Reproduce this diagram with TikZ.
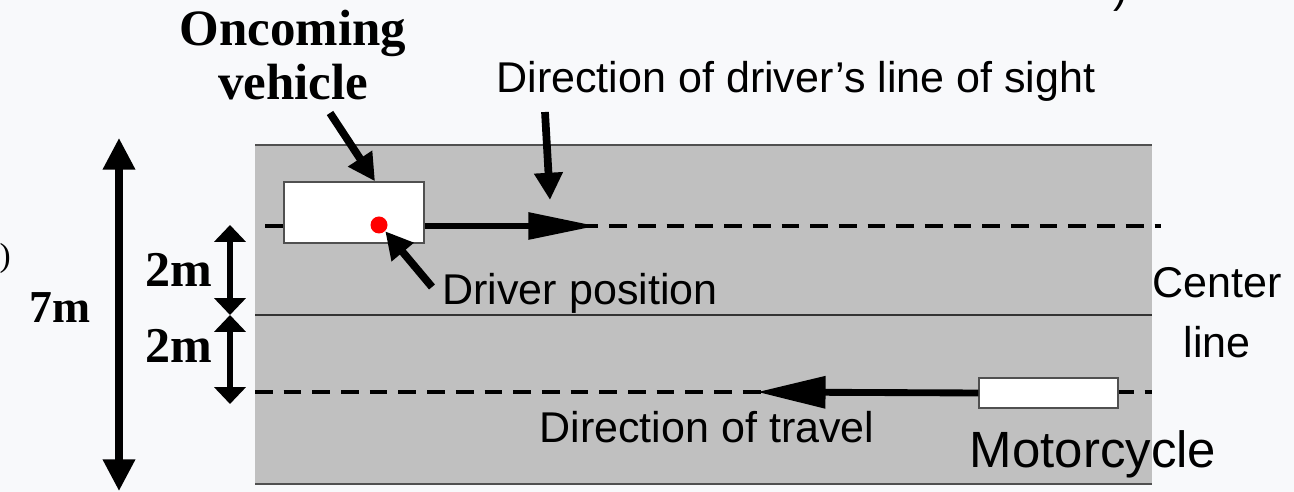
\documentclass[tikz,border=0pt]{standalone}
\usepackage{fontspec}
\setmainfont{Liberation Serif}
\setsansfont{Liberation Sans}
\usetikzlibrary{arrows.meta,positioning}

\definecolor{road}{RGB}{192,192,192}
\definecolor{paper}{RGB}{248,249,251}
\definecolor{edge}{RGB}{80,80,80}

\tikzset{
  lbl/.style={font=\sffamily\fontsize{24.5}{34.6}\selectfont,inner sep=0pt},
  dimlbl/.style={font=\bfseries\fontsize{28.5}{31.2}\selectfont,inner sep=0pt},
  box/.style={draw=edge,fill=white,line width=0.8pt,inner sep=0pt},
  lane/.style={line width=2.8pt,dash pattern=on 0.354cm off 0.22cm},
  pointer/.style={line width=4.4pt,-{Triangle[length=15.5pt,width=15.5pt]}},
  heading/.style={line width=3.9pt,-{Triangle[length=39pt,width=#1]}},
  bigdim/.style={line width=4pt,{Triangle[length=18pt,width=17.6pt]}-{Triangle[length=18pt,width=17.6pt]}},
  smalldim/.style={line width=3pt,{Triangle[length=9.6pt,width=17.6pt]}-{Triangle[length=9.6pt,width=17.6pt]}}
}

\begin{document}
\begin{tikzpicture}[x=0.02cm,y=-0.02cm]
  \fill[paper] (0,0) rectangle (1294,492);
  \useasboundingbox (0,0) rectangle (1294,492);

  %% road
  \fill[road] (255,145) rectangle (1152,484);
  \draw[edge,line width=0.8pt] (255,145) -- (1152,145);
  \draw[edge,line width=0.8pt] (255,484) -- (1152,484);
  \draw[black!80,line width=0.6pt] (255,315) -- (1152,315);
  \draw[lane] (265,226) -- (1161,226);
  \draw[lane] (255,392) -- (1152,392);

  %% vehicles
  \node[box,minimum width=2.8cm,minimum height=1.22cm] (car) at (354,212.5) {};
  \node[circle,fill=red,inner sep=0pt,minimum size=0.34cm] (dot) at (379,225) {};
  \node[box,minimum width=2.78cm,minimum height=0.6cm] (moto) at (1048.5,393) {};

  \coordinate (sight) at (597,226);
  \coordinate (travel) at (757,392);
  \draw[heading=14.6pt] (car.east |- sight) -- (sight);
  \draw[heading=17.6pt] (moto.west) -- (travel);

  %% labels
  \node[dimlbl,font=\bfseries\fontsize{29}{31.2}\selectfont,align=center,anchor=base] (onc) at (293,100) {Oncoming\\vehicle};
  \node[lbl,anchor=base] (sighttxt) at (796,93) {Direction of driver’s line of sight};
  \node[lbl,anchor=base] (drvtxt) at (580,305) {Driver position};
  \node[lbl,anchor=base] (traveltxt) at (707,443) {Direction of travel};
  \node[lbl,font=\sffamily\fontsize{29}{34}\selectfont,anchor=base] (mototxt) at (1093,468) {Motorcycle};
  \node[lbl,align=center,anchor=base] (centre) at (1217,358) {Center\\line};
  \node[inner sep=0pt,font=\fontsize{19}{20}\selectfont,anchor=base east] (lparen) at (11,267) {)};
  \node[inner sep=0pt,font=\sffamily\fontsize{24.5}{29}\selectfont,anchor=base west] (tparen) at (1113,3) {)};

  %% pointers
  \coordinate (onctail) at (330,113);
  \coordinate (sighttail) at (545,112);
  \coordinate (sighttip) at (550,200);
  \coordinate (drvtail) at (432,287);
  \draw[pointer] (onctail) -- ([xshift=0.42cm]car.north);
  \draw[pointer] (sighttail) -- (sighttip);
  \draw[pointer] (drvtail) -- (dot.south east);

  %% widths
  \coordinate (w7t) at (119,138);
  \coordinate (w7b) at (119,491);
  \coordinate (w2t) at (230,225);
  \coordinate (w2m) at (230,315);
  \coordinate (w2b) at (230,404);
  \draw[bigdim] (w7t) -- (w7b);
  \draw[smalldim] (w2t) -- (w2m);
  \draw[smalldim] (w2m) -- (w2b);
  \node[dimlbl,font=\bfseries\fontsize{26}{31}\selectfont,anchor=base] (seven) at (60,323) {7m};
  \node[dimlbl,anchor=base] (twoa) at (179,287) {2m};
  \node[dimlbl,anchor=base] (twob) at (179,363) {2m};
\end{tikzpicture}
\end{document}
